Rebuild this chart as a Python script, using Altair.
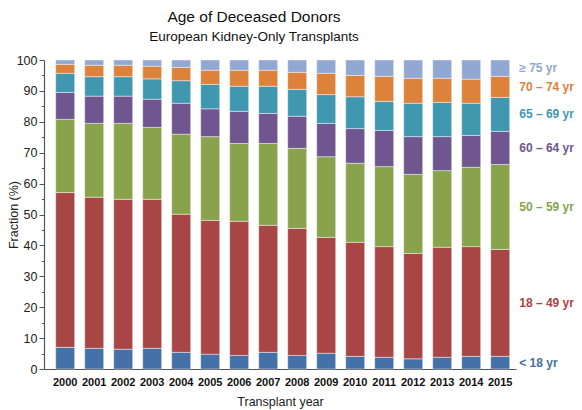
import altair as alt
import pandas as pd

FONT = "Liberation Sans"

years = [str(y) for y in range(2000, 2016)]
ages = ["< 18 yr", "18 – 49 yr", "50 – 59 yr", "60 – 64 yr",
        "65 – 69 yr", "70 – 74 yr", "≥ 75 yr"]
colors = ["#4471a8", "#a84545", "#88a34b", "#6f568e",
          "#3f98b0", "#dc823b", "#91a8d2"]

# share of donors (%) per age group, one value per year 2000..2015
under_18 = [7.0, 6.7, 6.4, 6.7, 5.4, 4.8, 4.4, 5.4, 4.4, 5.1, 4.1, 3.8, 3.3, 3.8, 4.1, 4.1]
age_18_49 = [50.1, 48.9, 48.5, 48.2, 44.7, 43.3, 43.4, 41.1, 41.1, 37.5, 36.9, 35.8, 34.1, 35.6, 35.5, 34.6]
age_50_59 = [23.7, 23.9, 24.6, 23.3, 25.9, 27.1, 25.2, 26.5, 25.9, 26.1, 25.6, 25.9, 25.6, 24.8, 25.7, 27.5]
age_60_64 = [8.7, 8.8, 8.8, 9.1, 10.0, 9.0, 10.4, 9.7, 10.4, 10.8, 11.2, 11.7, 12.2, 11.0, 10.3, 10.7]
age_65_69 = [6.2, 6.3, 6.3, 6.6, 7.3, 7.9, 8.1, 8.8, 8.7, 9.3, 10.3, 9.4, 10.8, 11.1, 10.4, 11.0]
age_70_74 = [2.9, 3.7, 3.7, 4.1, 4.3, 4.6, 5.2, 5.2, 5.5, 6.9, 6.9, 8.1, 8.1, 7.8, 7.8, 6.8]
over_75 = [1.4, 1.7, 1.7, 2.0, 2.4, 3.3, 3.3, 3.3, 4.0, 4.3, 5.0, 5.3, 5.9, 5.9, 6.2, 5.3]

series = [under_18, age_18_49, age_50_59, age_60_64, age_65_69, age_70_74, over_75]

rows = []
for i, (age, vals) in enumerate(zip(ages, series)):
    for year, v in zip(years, vals):
        rows.append({"year": year, "age": age, "idx": i, "value": v})
df = pd.DataFrame(rows)

color = alt.Color("age:N", scale=alt.Scale(domain=ages, range=colors), legend=None)

x_scale = alt.Scale(paddingInner=0.345, paddingOuter=0.31, align=0.65)
x_axis = alt.Axis(title="Transplant year", ticks=False, labelAngle=0,
                  labelFont=FONT, labelFontSize=11, labelFontWeight="bold",
                  labelColor="#111", labelPadding=7,
                  titleFont=FONT, titleFontSize=12.5, titleFontWeight="normal",
                  titleColor="#222", titlePadding=8,
                  domainColor="#555", domainWidth=1.2)

y_scale = alt.Scale(domain=[0, 100], nice=False)
y_axis = alt.Axis(title="Fraction (%)", values=list(range(0, 101, 5)),
                  labelExpr="datum.value % 10 === 0 ? datum.label : ''",
                  labelOverlap=False,
                  tickSize={"condition": {"test": "datum.value % 10 === 0", "value": 5}, "value": 2.5},
                  tickColor="#555", domainColor="#555", domainWidth=1.2,
                  labelFont=FONT, labelFontSize=12.5, labelColor="#222",
                  labelPadding=2, grid=False,
                  titleFont=FONT, titleFontSize=12.5, titleFontWeight="normal",
                  titleColor="#222", titleX=-24)

base = alt.Chart(df).transform_stack(
    stack="value",
    groupby=["year"],
    sort=[alt.SortField("idx", order="ascending")],
    as_=["y0", "y1"]
)

bars = base.mark_bar(stroke="white", strokeOpacity=0.55, strokeWidth=0.8).encode(
    x=alt.X("year:O", sort=years, scale=x_scale, axis=x_axis),
    y=alt.Y("y0:Q", scale=y_scale, axis=y_axis),
    y2="y1:Q",
    color=color,
    order=alt.Order("idx:Q")
)

labels = base.transform_filter(
    "datum.year == '2015'"
).transform_calculate(
    mid="(datum.y0 + datum.y1) / 2"
).mark_text(align="left", baseline="middle", dx=19, font=FONT,
            fontSize=12, fontWeight="bold").encode(
    x=alt.X("year:O", sort=years, scale=x_scale, axis=x_axis),
    y=alt.Y("mid:Q", scale=y_scale, axis=y_axis),
    text="age:N",
    color=color
)

chart = alt.layer(bars, labels).properties(
    width=472,
    height=309,
    autosize=alt.AutoSizeParams(type="none"),
    padding={"left": 36, "top": 52, "right": 58, "bottom": 40},
    title=alt.TitleParams(
        text="Age of Deceased Donors",
        subtitle="European Kidney-Only Transplants",
        font=FONT, fontSize=15.5, fontWeight="normal", color="#111",
        subtitleFont=FONT, subtitleFontSize=13.5, subtitleColor="#111",
        subtitlePadding=4, anchor="middle", dx=-26, offset=11
    )
).configure_view(stroke=None)

chart.save("out.html", embed_options={"renderer": "svg", "actions": False})
